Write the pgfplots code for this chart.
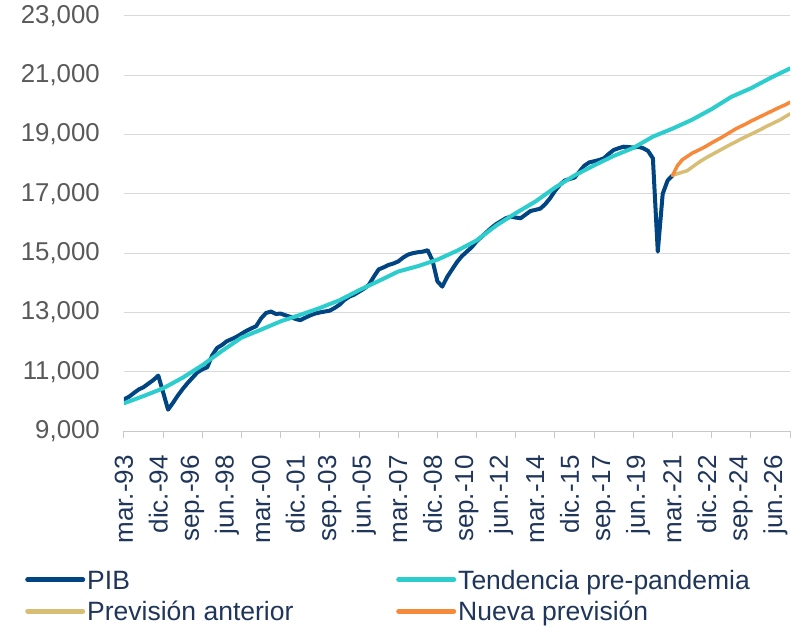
\documentclass[border=0pt]{standalone}
\usepackage{fontspec}
\setmainfont{Liberation Sans}
\usepackage{pgfplots}
\pgfplotsset{compat=1.18}
\definecolor{pib}{HTML}{004481}
\definecolor{tend}{HTML}{2DCCCD}
\definecolor{ant}{HTML}{D8BE75}
\definecolor{nueva}{HTML}{F7893B}
\definecolor{gridc}{HTML}{D9D9D9}
\definecolor{axisc}{HTML}{C8C8C8}
\definecolor{ylab}{HTML}{595959}
\definecolor{navy}{HTML}{1F3559}
\begin{document}
\begin{tikzpicture}[x=1bp,y=1bp]
\useasboundingbox (-124,-197) rectangle (679,431);
\begin{axis}[
  at={(0,0)}, anchor=south west,
  scale only axis, width=666bp, height=415bp,
  xmin=0, xmax=136, ymin=9000, ymax=23000,
  axis x line*=bottom, axis y line*=left,
  y axis line style={draw=none},
  x axis line style={draw=axisc, line width=1bp},
  ytick={9000,11000,...,23000},
  ymajorgrids, major grid style={draw=gridc, line width=1bp},
  major tick length=0pt,
  tick align=outside,
  minor tick length=7bp,
  minor xtick={0,8,...,136},
  minor tick style={draw=axisc, line width=1bp},
  xtick={0,7,...,133},
  xticklabels={mar.-93,dic.-94,sep.-96,jun.-98,mar.-00,dic.-01,sep.-03,jun.-05,mar.-07,dic.-08,sep.-10,jun.-12,mar.-14,dic.-15,sep.-17,jun.-19,mar.-21,dic.-22,sep.-24,jun.-26},
  xticklabel style={rotate=90, anchor=east, inner sep=0pt, font=\fontsize{26bp}{29bp}\selectfont, text=navy},
  xticklabel shift=24bp,
  yticklabel style={anchor=east, inner sep=0pt, font=\fontsize{25.8bp}{29bp}\selectfont, text=ylab},
  yticklabel shift=24bp,
  scaled y ticks=false,
  /pgf/number format/.cd, 1000 sep={,}, assume math mode=true,
  /pgfplots/.cd,
  legend columns=2,
  legend cell align=left,
  legend image code/.code={\draw[#1, line width=5bp] (0bp,0bp) -- (55bp,0bp);},
  legend style={at={(-0.1486,-0.327)}, anchor=north west, draw=none, fill=none,
    font=\fontsize{26.5bp}{30bp}\selectfont, text=navy, inner sep=0pt, row sep=6bp,
    nodes={inner xsep=2bp, inner ysep=1.5bp}},
  every axis plot/.append style={line join=round, line cap=round},
]
\addplot[pib, line width=4bp] coordinates {
(0,10070)(1,10150)(2,10280)(3,10400)(4,10480)(5,10600)(6,10720)(7,10870)(8,10300)(9,9720)
(10,9950)(11,10200)(12,10420)(13,10620)(14,10800)(15,10980)(16,11080)(17,11150)(18,11550)(19,11800)
(20,11900)(21,12030)(22,12100)(23,12180)(24,12280)(25,12380)(26,12460)(27,12540)(28,12800)(29,12980)
(30,13030)(31,12950)(32,12960)(33,12900)(34,12850)(35,12780)(36,12740)(37,12820)(38,12900)(39,12960)
(40,13000)(41,13030)(42,13060)(43,13150)(44,13260)(45,13420)(46,13530)(47,13600)(48,13700)(49,13800)
(50,13930)(51,14200)(52,14450)(53,14520)(54,14600)(55,14650)(56,14720)(57,14850)(58,14950)(59,15000)
(60,15030)(61,15050)(62,15100)(63,14750)(64,14050)(65,13870)(66,14200)(67,14450)(68,14700)(69,14900)
(70,15050)(71,15200)(72,15400)(73,15550)(74,15700)(75,15850)(76,15980)(77,16080)(78,16180)(79,16230)
(80,16200)(81,16180)(82,16300)(83,16420)(84,16460)(85,16500)(86,16650)(87,16850)(88,17100)(89,17300)
(90,17450)(91,17500)(92,17550)(93,17750)(94,17950)(95,18060)(96,18100)(97,18140)(98,18200)(99,18350)
(100,18480)(101,18540)(102,18590)(103,18580)(104,18560)(105,18590)(106,18540)(107,18450)(108,18200)(109,15050)
(110,17000)(111,17450)(112,17620)};
\addlegendentry{\makebox[307bp][l]{\strut PIB}}
\addplot[tend, line width=4bp] coordinates {
(0,9935)(4,10180)(8,10440)(12,10800)(16,11220)(20,11700)(24,12150)(28,12420)(32,12700)(36,12920)
(40,13150)(44,13410)(48,13750)(52,14060)(56,14380)(60,14560)(64,14780)(68,15080)(72,15430)(76,15930)
(80,16350)(84,16740)(88,17210)(92,17620)(96,17960)(100,18280)(104,18550)(108,18930)(112,19200)(116,19500)
(120,19860)(124,20270)(128,20560)(132,20910)(136,21230)};
\addlegendentry{\strut Tendencia pre-pandemia}
\addplot[ant, line width=3.5bp] coordinates {
(112,17620)(113,17680)(114,17730)(115,17780)(116,17900)(117,18020)(118,18130)(119,18230)(120,18320)
(121,18410)(122,18500)(123,18590)(124,18680)(125,18760)(126,18850)(127,18930)(128,19010)(129,19090)
(130,19170)(131,19260)(132,19340)(133,19420)(134,19500)(135,19600)(136,19700)};
\addlegendentry{\makebox[307bp][l]{\strut Previsión anterior}}
\addplot[nueva, line width=3.5bp] coordinates {
(112,17620)(113,17950)(114,18150)(115,18260)(116,18370)(117,18450)(118,18530)(119,18620)(120,18720)
(121,18810)(122,18900)(123,19000)(124,19100)(125,19200)(126,19280)(127,19360)(128,19450)(129,19530)
(130,19610)(131,19690)(132,19770)(133,19850)(134,19930)(135,20000)(136,20090)};
\addlegendentry{\strut Nueva previsión}
\end{axis}
\end{tikzpicture}
\end{document}
